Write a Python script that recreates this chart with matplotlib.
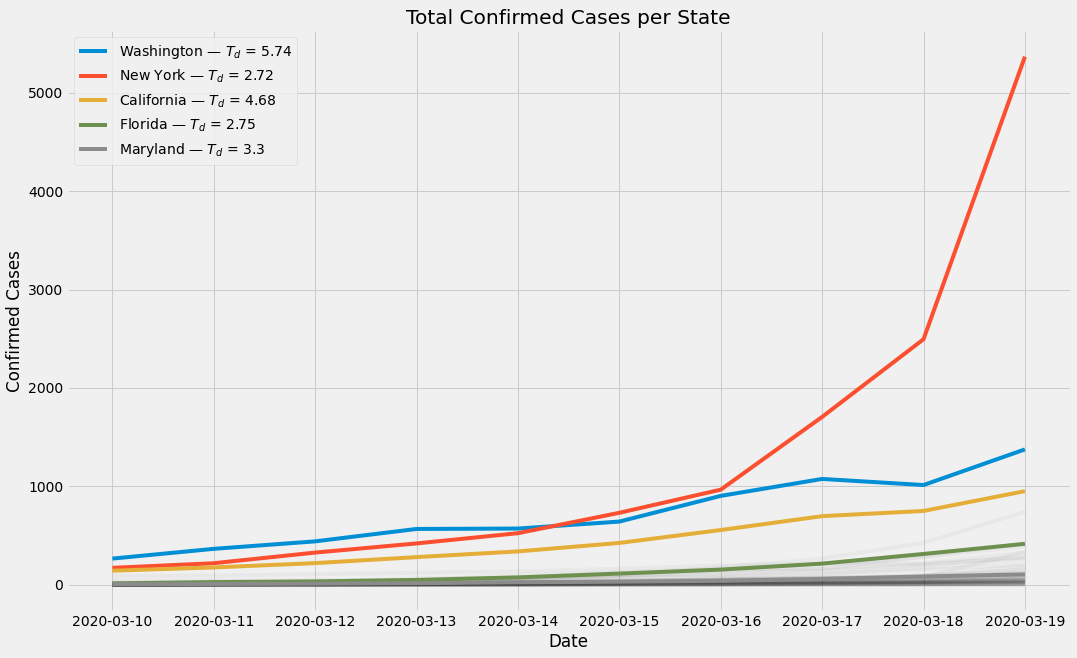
import matplotlib
matplotlib.use("Agg")
import matplotlib.pyplot as plt

plt.style.use("fivethirtyeight")

dates = ["2020-03-10", "2020-03-11", "2020-03-12", "2020-03-13", "2020-03-14",
         "2020-03-15", "2020-03-16", "2020-03-17", "2020-03-18", "2020-03-19"]

# highlighted states: name, doubling time, cases
washington = [267, 366, 442, 568, 572, 643, 904, 1076, 1014, 1376]
new_york = [173, 220, 328, 421, 525, 732, 967, 1706, 2495, 5365]
california = [144, 177, 221, 282, 340, 426, 557, 698, 751, 952]
florida = [15, 28, 35, 50, 76, 115, 155, 216, 314, 417]
maryland = [8, 9, 12, 17, 26, 32, 41, 60, 85, 107]

highlight_names = ["Washington", "New York", "California", "Florida", "Maryland"]
doubling_times = [5.74, 2.72, 4.68, 2.75, 3.3]
highlight_cases = [washington, new_york, california, florida, maryland]

# everything else, drawn faint in the background
other_states = {
    "New Jersey": [15, 23, 29, 69, 69, 98, 178, 267, 427, 742],
    "Illinois": [12, 25, 32, 46, 64, 93, 105, 161, 288, 422],
    "Louisiana": [1, 6, 19, 36, 77, 91, 136, 196, 280, 392],
    "Massachusetts": [92, 95, 108, 123, 138, 164, 197, 218, 218, 328],
    "Michigan": [0, 2, 2, 16, 25, 33, 53, 65, 83, 334],
    "Georgia": [17, 23, 31, 42, 66, 99, 121, 146, 199, 287],
    "Colorado": [15, 34, 45, 49, 101, 131, 160, 160, 216, 277],
    "Texas": [13, 21, 27, 43, 57, 72, 85, 110, 173, 260],
    "Pennsylvania": [12, 16, 22, 41, 47, 66, 77, 112, 152, 206],
    "Connecticut": [2, 3, 5, 11, 22, 24, 41, 68, 96, 194],
    "Wisconsin": [3, 6, 8, 19, 27, 32, 47, 72, 92, 159],
    "Tennessee": [7, 9, 18, 26, 32, 39, 52, 74, 79, 154],
    "North Carolina": [7, 7, 15, 17, 24, 33, 38, 64, 70, 123],
    "Ohio": [3, 4, 5, 13, 26, 37, 50, 67, 100, 119],
    "Nevada": [4, 7, 14, 20, 21, 24, 45, 56, 55, 95],
    "Virginia": [9, 9, 17, 30, 41, 45, 49, 67, 77, 94],
    "Minnesota": [3, 5, 9, 14, 21, 35, 54, 60, 77, 89],
    "Oregon": [15, 19, 24, 30, 32, 36, 66, 68, 75, 88],
    "South Carolina": [7, 10, 12, 13, 19, 28, 33, 47, 60, 81],
    "Utah": [2, 3, 5, 9, 10, 28, 39, 51, 51, 78],
    "Indiana": [6, 10, 12, 12, 16, 20, 25, 30, 39, 56],
    "Arizona": [6, 9, 9, 9, 12, 13, 18, 20, 28, 44],
    "Kentucky": [6, 8, 10, 14, 14, 20, 25, 26, 35, 47],
    "Missouri": [1, 1, 1, 2, 4, 5, 6, 12, 15, 28],
    "Iowa": [8, 13, 16, 17, 18, 18, 22, 23, 29, 44],
    "Alabama": [0, 0, 0, 5, 6, 12, 29, 39, 46, 78],
    "Mississippi": [0, 0, 1, 6, 6, 10, 21, 34, 50, 50],
    "Rhode Island": [3, 5, 5, 14, 20, 20, 21, 23, 33, 44],
    "New Hampshire": [4, 5, 6, 6, 7, 13, 17, 26, 26, 39],
    "Arkansas": [0, 1, 6, 9, 12, 16, 22, 22, 33, 62],
    "Oklahoma": [1, 2, 2, 2, 4, 7, 10, 17, 29, 49],
    "Kansas": [1, 1, 1, 4, 5, 8, 11, 17, 21, 34],
    "Nebraska": [3, 5, 10, 13, 14, 17, 18, 21, 24, 27],
    "New Mexico": [0, 4, 5, 10, 13, 17, 21, 23, 28, 35],
    "Hawaii": [2, 2, 2, 2, 4, 6, 7, 10, 14, 16],
    "Vermont": [0, 1, 1, 2, 5, 8, 12, 12, 19, 22],
    "Maine": [0, 0, 1, 2, 3, 12, 17, 32, 42, 52],
    "Delaware": [0, 1, 1, 4, 6, 7, 8, 16, 19, 30],
    "Idaho": [0, 0, 0, 1, 2, 5, 5, 8, 9, 11],
    "Montana": [0, 0, 0, 1, 5, 7, 8, 11, 12, 15],
    "South Dakota": [0, 8, 8, 9, 9, 9, 10, 11, 11, 11],
    "North Dakota": [0, 1, 1, 1, 1, 1, 1, 6, 7, 19],
    "Wyoming": [0, 0, 1, 2, 3, 3, 3, 11, 15, 18],
    "Alaska": [0, 0, 1, 1, 1, 1, 3, 3, 6, 9],
    "District of Columbia": [4, 10, 10, 10, 10, 16, 22, 22, 31, 40],
    "West Virginia": [0, 0, 0, 0, 0, 0, 1, 1, 2, 2],
    "Puerto Rico": [0, 0, 0, 3, 4, 5, 5, 5, 5, 5],
    "Guam": [0, 0, 0, 0, 0, 3, 3, 5, 8, 12],
    "Virgin Islands": [0, 0, 0, 0, 1, 1, 1, 2, 2, 3],
    "Grand Princess": [21, 21, 21, 21, 21, 21, 21, 21, 22, 22],
    "Diamond Princess": [46, 46, 46, 46, 46, 46, 46, 49, 49, 49],
}

fig, ax = plt.subplots(figsize=(1077 / 72, 658 / 72), dpi=72)
fig.subplots_adjust(left=0.062, right=0.994, bottom=0.071, top=0.954)

for name, cases in other_states.items():
    ax.plot(dates, cases, color="k", alpha=0.03)

for name, td, cases in zip(highlight_names, doubling_times, highlight_cases):
    ax.plot(dates, cases, label=f"{name} — $T_d$ = {td}")

ax.set_title("Total Confirmed Cases per State")
ax.set_xlabel("Date")
ax.set_ylabel("Confirmed Cases")
ax.legend(loc="upper left")

fig.savefig("out.png", dpi=72)
